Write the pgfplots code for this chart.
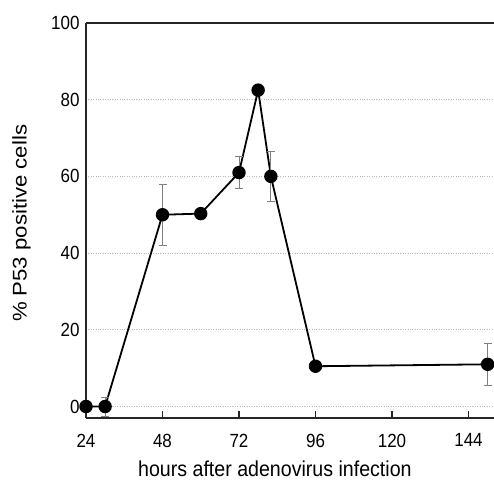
\documentclass[border=0pt]{standalone}
\usepackage{graphicx}
\usepackage{pgfplots}
\pgfplotsset{compat=1.18}
\usepackage{fontspec}
\setmainfont{Liberation Sans}
\usetikzlibrary{calc}

\pgfplotstableread{
x y e
24 0 0
30 0 2.5
48 50 8
60 50.3 0
72 61 4.2
78 82.5 0
82 60 6.5
96 10.5 0
150 11 5.5
}\datatable

\begin{document}
\begin{tikzpicture}
\begin{axis}[
 scale only axis,
 width=408pt, height=395pt,
 xmin=24, xmax=152, ymin=-3, ymax=100,
 axis x line=box, axis y line=left,
 axis line style={line width=1.6pt, color=black!85, -},
 xtick={24,48,72,96,120,144},
 ytick={0,20,40,60,80,100},
 xtick pos=bottom,
 tick align=inside,
 major tick length=7pt,
 x tick style={line width=1.4pt, black!85},
 y tick style={draw=none},
 ymajorgrids,
 grid style={dotted, line width=1.2pt, gray!55},
 clip=false,
 tick label style={font=\fontsize{17}{20}\selectfont, yscale=1.12},
 /pgf/number format/assume math mode=true,
 xticklabel style={yshift=-10.5pt},
 yticklabel style={xshift=-3pt},
 xlabel={hours after adenovirus infection},
 ylabel={\% P53 positive cells},
 xlabel style={font=\fontsize{19.6}{22}\selectfont, at={(axis description cs:0.463,0)}, anchor=north, yshift=-43pt, inner sep=0pt, yscale=1.1},
 ylabel style={font=\fontsize{19.8}{22}\selectfont, at={(axis description cs:-0.181,0.4927)}, anchor=north, inner sep=0pt, xscale=1.12},
]
\addplot[black, line width=1.8pt, mark=*, mark size=5.8pt, mark options={solid, fill=black},
  error bars/.cd, y dir=both, y explicit,
  error bar style={gray, line width=0.8pt},
  error mark options={rotate=90, mark size=4pt, gray, line width=0.8pt}]
  table[x=x, y=y, y error=e] {\datatable};
\coordinate (bl) at (rel axis cs:0,0);
\coordinate (tr) at (rel axis cs:1,1);
\end{axis}
\pgfresetboundingbox
\path[use as bounding box] ($(bl)+(-86pt,-62pt)$) rectangle ($(tr)+(0pt,23pt)$);
\end{tikzpicture}
\end{document}
